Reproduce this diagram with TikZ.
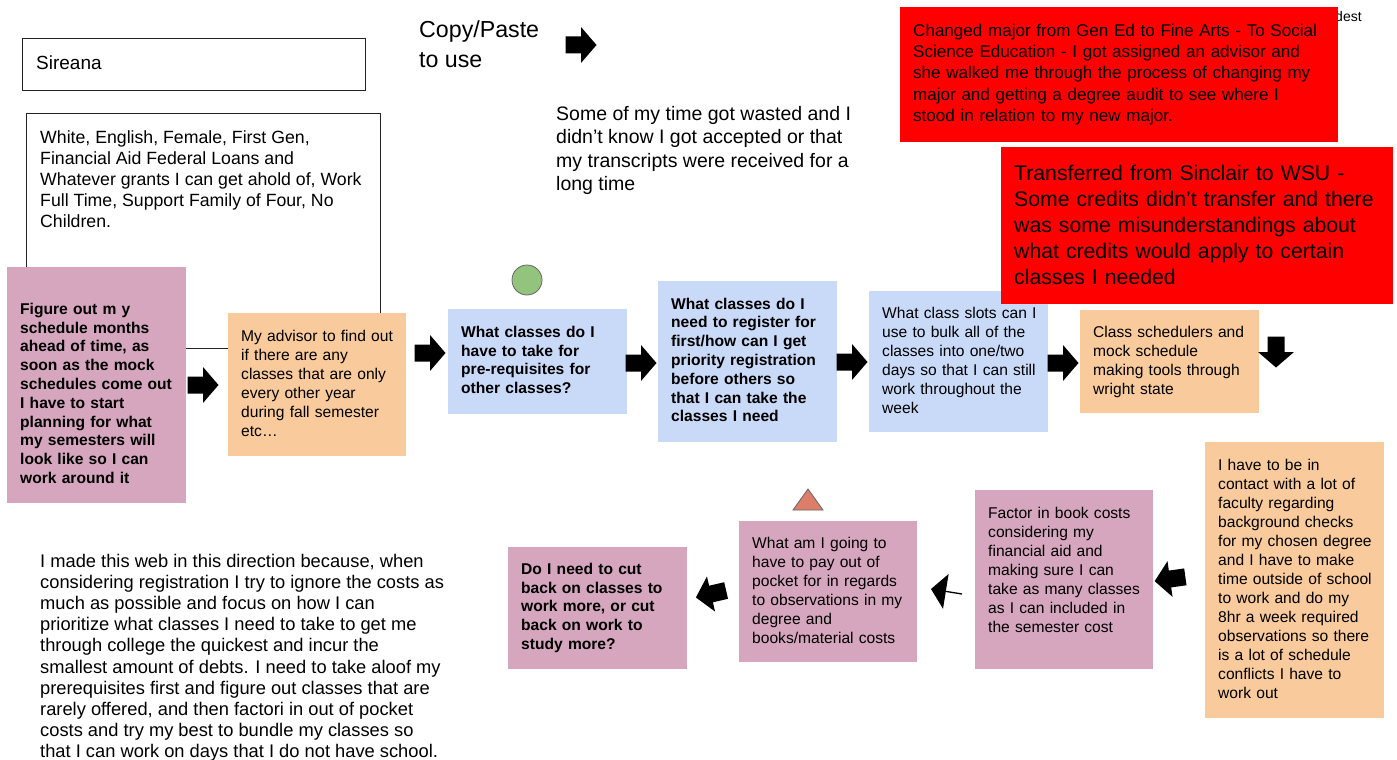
\documentclass[tikz,border=0pt]{standalone}
\usepackage{fontspec}
\setmainfont{Liberation Sans}
\usetikzlibrary{arrows.meta}
\definecolor{pinkc}{HTML}{D5A6BD}
\definecolor{orangec}{HTML}{F9CB9C}
\definecolor{bluec}{HTML}{C9DAF8}
\definecolor{redc}{HTML}{FF0000}
\definecolor{greenc}{HTML}{93C47D}
\definecolor{trianglec}{HTML}{DD7E6B}
\definecolor{edgec}{HTML}{222222}
\newcommand\fsz[2]{\fontsize{#1}{#2}\selectfont}
\newcommand\rowsc[1]{\begin{tabular}{@{}l@{}}#1\end{tabular}}
\newcommand\rowst[1]{\begin{tabular}[t]{@{}l@{}}#1\end{tabular}}
\begin{document}
\begin{tikzpicture}[x=1pt,y=-1pt,
  card/.style={anchor=north west, inner xsep=13pt, inner ysep=0pt, align=left, text=black},
  normtxt/.style={font=\fsz{15.6}{19}},
  boldtxt/.style={font=\fsz{15.6}{18.8}\bfseries},
  free/.style={anchor=base west, inner sep=0pt, text=black},
  outline/.style={draw=edgec, line width=1.3pt, anchor=north west, inner sep=0pt},
  blockarrow/.pic={\fill[black] (-15.5,-8.5) -- (0,-8.5) -- (0,-18) -- (15.5,0) -- (0,18) -- (0,8.5) -- (-15.5,8.5) -- cycle;}
]
\useasboundingbox (0,0) rectangle (1397,760);
\fill[white] (0,0) rectangle (1397,760);

% outlined boxes
\node[outline, minimum width=354pt, minimum height=235pt] (demo) at (26,113) {};
\node[free, font=\fsz{17.7}{21}] (demotext) at (40,143) {\rowst{White, English, Female, First Gen,\\Financial Aid Federal Loans and\\Whatever grants I can get ahold of, Work\\Full Time, Support Family of Four, No\\Children.}};
\node[outline, minimum width=343pt, minimum height=52pt] (name) at (22,38) {};
\node[free, font=\fsz{19}{23}] (nametext) at (36,70) {Sireana};

% free texts
\node[free, font=\fsz{23.2}{29}] (copy) at (419,38) {\rowst{Copy/Paste\\to use}};
\pic (a0) at (581,45) {blockarrow};
\node[free, font=\fsz{19.5}{23.6}] (wasted) at (556,120) {\rowst{Some of my time got wasted and I\\didn’t know I got accepted or that\\my transcripts were received for a\\long time}};
\node[free, font=\fsz{14}{17}] (dest) at (1335,22) {dest};
\node[free, font=\fsz{18.3}{21.2}] (why) at (40,567) {\rowst{I made this web in this direction because, when\\considering registration I try to ignore the costs as\\much as possible and focus on how I can\\prioritize what classes I need to take to get me\\through college the quickest and incur the\\smallest amount of debts. I need to take aloof my\\prerequisites first and figure out classes that are\\rarely offered, and then factori in out of pocket\\costs and try my best to bundle my classes so\\that I can work on days that I do not have school.}};

% red box 1
\node[card, fill=redc, minimum width=438pt, minimum height=135pt, text width=412pt, font=\fsz{17.05}{21.25}] (r1) at (900,7) {\rowsc{Changed major from Gen Ed to Fine Arts - To Social\\Science Education - I got assigned an advisor and\\she walked me through the process of changing my\\major and getting a degree audit to see where I\\stood in relation to my new major.}};

% flow boxes
\node[card, boldtxt, fill=pinkc, minimum width=179pt, minimum height=236pt, text width=153pt] (p1) at (7,267) {\raisebox{0pt}[\dimexpr\height+20pt\relax][\depth]{\rowsc{Figure out m y\\schedule months\\ahead of time, as\\soon as the mock\\schedules come out\\I have to start\\planning for what\\my semesters will\\look like so I can\\work around it}}};
\node[card, normtxt, fill=orangec, minimum width=178pt, minimum height=143pt, text width=152pt] (o1) at (228,313) {\rowsc{My advisor to find out\\if there are any\\classes that are only\\every other year\\during fall semester\\etc…}};
\node[card, boldtxt, fill=bluec, minimum width=179pt, minimum height=105pt, text width=153pt] (b1) at (448,309) {\rowsc{What classes do I\\have to take for\\pre-requisites for\\other classes?}};
\node[card, boldtxt, fill=bluec, minimum width=179pt, minimum height=161pt, text width=153pt] (b2) at (658,281) {\rowsc{What classes do I\\need to register for\\first/how can I get\\priority registration\\before others so\\that I can take the\\classes I need}};
\node[card, normtxt, fill=bluec, minimum width=179pt, minimum height=141pt, text width=153pt] (b3) at (869,291) {\rowsc{What class slots can I\\use to bulk all of the\\classes into one/two\\days so that I can still\\work throughout the\\week}};
\node[card, normtxt, fill=orangec, minimum width=179pt, minimum height=103pt, text width=153pt] (o2) at (1080,310) {\rowsc{Class schedulers and\\mock schedule\\making tools through\\wright state}};
\node[card, normtxt, fill=orangec, minimum width=179pt, minimum height=276pt, text width=153pt] (o3) at (1205,442) {\rowsc{I have to be in\\contact with a lot of\\faculty regarding\\background checks\\for my chosen degree\\and I have to make\\time outside of school\\to work and do my\\8hr a week required\\observations so there\\is a lot of schedule\\conflicts I have to\\work out}};
\node[card, normtxt, fill=pinkc, minimum width=178pt, minimum height=179pt, text width=152pt] (p2) at (975,490) {\raisebox{0pt}[\height][\dimexpr\depth+16pt\relax]{\rowsc{Factor in book costs\\considering my\\financial aid and\\making sure I can\\take as many classes\\as I can included in\\the semester cost}}};
\node[card, normtxt, fill=pinkc, minimum width=178pt, minimum height=141pt, text width=152pt] (p3) at (739,521) {\rowsc{What am I going to\\have to pay out of\\pocket for in regards\\to observations in my\\degree and\\books/material costs}};
\node[card, boldtxt, fill=pinkc, minimum width=179pt, minimum height=122pt, text width=153pt] (p4) at (508,547) {\rowsc{Do I need to cut\\back on classes to\\work more, or cut\\back on work to\\study more?}};

% red box 2 (over the blue box)
\node[card, fill=redc, minimum width=392pt, minimum height=157pt, text width=366pt, font=\fsz{21.2}{26}] (r2) at (1001,147) {\raisebox{0pt}[\dimexpr\height+3pt\relax][\depth]{\rowsc{Transferred from Sinclair to WSU -\\Some credits didn’t transfer and there\\was some misunderstandings about\\what credits would apply to certain\\classes I needed}}};

% markers
\node[circle, fill=greenc, draw=black!60, line width=0.8pt, minimum size=30pt, inner sep=0pt] (dot) at (527,280) {};
\draw[fill=trianglec, draw=black!60, line width=0.8pt] (793,510) -- (808,489) -- (823,510) -- cycle;

% block arrows
\pic (a1) at (203,385) {blockarrow};
\pic (a2) at (430,353) {blockarrow};
\pic (a3) at (641,363) {blockarrow};
\pic (a4) at (852,362) {blockarrow};
\pic (a5) at (1063,363) {blockarrow};
\pic[rotate=-90] (a6) at (1276,352) {blockarrow};
\pic[rotate=188] (a7) at (1170,579) {blockarrow};
\pic[rotate=193] (a9) at (711,594) {blockarrow};

% thin arrow with big head
\coordinate (a8s) at (962,594);
\coordinate (a8e) at (931,589);
\draw[line width=1.3pt, -{Triangle[length=15pt,width=35pt]}] (a8s) -- (a8e);
\end{tikzpicture}
\end{document}
